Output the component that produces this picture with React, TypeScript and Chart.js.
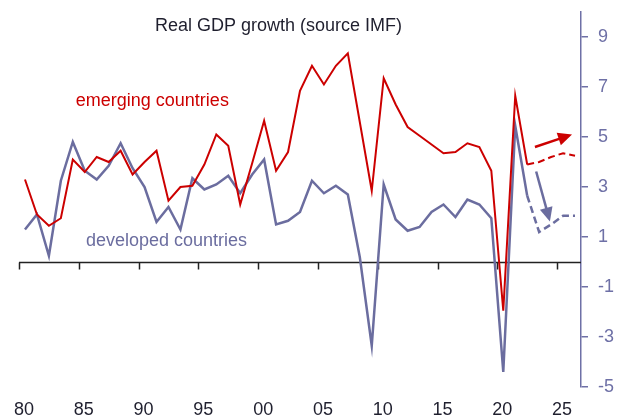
import React, { useEffect, useRef } from 'react';
import { Chart, registerables } from 'chart.js';

Chart.register(...registerables);

// ---------- data ----------
const years = [
  1980, 1981, 1982, 1983, 1984, 1985, 1986, 1987, 1988, 1989,
  1990, 1991, 1992, 1993, 1994, 1995, 1996, 1997, 1998, 1999,
  2000, 2001, 2002, 2003, 2004, 2005, 2006, 2007, 2008, 2009,
  2010, 2011, 2012, 2013, 2014, 2015, 2016, 2017, 2018, 2019,
  2020, 2021, 2022, 2023, 2024, 2025, 2026,
];

const emerging = [
  3.3, 1.9, 1.45, 1.75, 4.1, 3.6, 4.2, 4.0, 4.45, 3.5,
  4.0, 4.45, 2.45, 3.0, 3.05, 3.9, 5.1, 4.65, 2.3, 3.95,
  5.65, 3.65, 4.4, 6.85, 7.85, 7.1, 7.85, 8.35, 5.6, 2.85,
  7.35, 6.3, 5.4, 5.05, 4.7, 4.35, 4.4, 4.75, 4.6, 3.65,
  -1.95, 6.65, 3.9, 4.0, 4.2, 4.35, 4.25,
];

const developed = [
  1.3, 1.9, 0.25, 3.25, 4.8, 3.65, 3.3, 3.85, 4.75, 3.75,
  3.0, 1.6, 2.2, 1.3, 3.35, 2.9, 3.1, 3.45, 2.75, 3.5,
  4.1, 1.5, 1.65, 2.0, 3.25, 2.75, 3.05, 2.7, 0.2, -3.35,
  3.1, 1.7, 1.25, 1.4, 2.0, 2.3, 1.8, 2.5, 2.3, 1.75,
  -4.4, 5.45, 2.65, 1.2, 1.5, 1.85, 1.85,
];

const projectionStartYear = 2022;

const xTickYears = [1980, 1985, 1990, 1995, 2000, 2005, 2010, 2015, 2020, 2025];
const xTickLabels = ['80', '85', '90', '95', '00', '05', '10', '15', '20', '25'];
const yTickValues = [-5, -3, -1, 1, 3, 5, 7, 9];

const titleText = 'Real GDP growth (source IMF)';
const emergingLabel = 'emerging countries';
const developedLabel = 'developed countries';

// trend arrows (year, value): tail then tip
const emergingArrowTail = [2023.15, 4.6];
const emergingArrowTip = [2026.25, 5.1];
const developedArrowTail = [2023.25, 3.62];
const developedArrowTip = [2024.4, 1.62];

// ---------- styles ----------
const RED = '#cc0000';
const BLUE = '#6b6d9f';
const AXIS_BLUE = '#6e70a6';
const DARK = '#1f1f2e';
const FONT = "'Liberation Sans', Arial, Helvetica, sans-serif";

function drawArrow(ctx: CanvasRenderingContext2D, x1: number, y1: number, x2: number, y2: number, color: string, width: number) {
  const headLen = 14;
  const headHalf = 6.5;
  const ang = Math.atan2(y2 - y1, x2 - x1);
  const bx = x2 - headLen * Math.cos(ang);
  const by = y2 - headLen * Math.sin(ang);
  ctx.save();
  ctx.strokeStyle = color;
  ctx.fillStyle = color;
  ctx.lineWidth = width;
  ctx.setLineDash([]);
  ctx.beginPath();
  ctx.moveTo(x1, y1);
  ctx.lineTo(bx + 2 * Math.cos(ang), by + 2 * Math.sin(ang));
  ctx.stroke();
  ctx.beginPath();
  ctx.moveTo(x2, y2);
  ctx.lineTo(bx + headHalf * Math.sin(ang), by - headHalf * Math.cos(ang));
  ctx.lineTo(bx - headHalf * Math.sin(ang), by + headHalf * Math.cos(ang));
  ctx.closePath();
  ctx.fill();
  ctx.restore();
}

const zeroLinePlugin = {
  id: 'zeroLine',
  beforeDatasetsDraw(chart: any) {
    const { ctx, chartArea, scales } = chart;
    const y0 = Math.round(scales.y.getPixelForValue(0)) + 0.5;
    ctx.save();
    ctx.strokeStyle = '#222222';
    ctx.lineWidth = 1.5;
    ctx.beginPath();
    ctx.moveTo(chartArea.left, y0);
    ctx.lineTo(chartArea.right, y0);
    for (const yr of xTickYears) {
      const x = Math.round(scales.x.getPixelForValue(yr)) + 0.5;
      ctx.moveTo(x, y0);
      ctx.lineTo(x, y0 + 7);
    }
    ctx.stroke();
    ctx.restore();
  },
};

const annotationPlugin = {
  id: 'annotations',
  afterDatasetsDraw(chart: any) {
    const { ctx, scales } = chart;
    const px = (v: number) => scales.x.getPixelForValue(v);
    const py = (v: number) => scales.y.getPixelForValue(v);
    ctx.save();
    ctx.textBaseline = 'middle';
    ctx.font = `18px ${FONT}`;
    ctx.fillStyle = DARK;
    ctx.textAlign = 'center';
    ctx.fillText(titleText, px(2001.7), py(9.45));
    ctx.textAlign = 'left';
    ctx.fillStyle = RED;
    ctx.fillText(emergingLabel, px(1984.75), py(6.45));
    ctx.fillStyle = BLUE;
    ctx.fillText(developedLabel, px(1985.6), py(0.85));
    ctx.restore();

    drawArrow(ctx, px(emergingArrowTail[0]), py(emergingArrowTail[1]), px(emergingArrowTip[0]), py(emergingArrowTip[1]), RED, 2.5);
    drawArrow(ctx, px(developedArrowTail[0]), py(developedArrowTail[1]), px(developedArrowTip[0]), py(developedArrowTip[1]), BLUE, 2.5);
  },
};

export default function App() {
  const canvasRef = useRef<HTMLCanvasElement | null>(null);

  useEffect(() => {
    document.body.style.margin = '0';
    const canvas = canvasRef.current;
    if (!canvas) return;

    const projIdx = years.indexOf(projectionStartYear);
    const toPoints = (vals: number[]) => years.map((yr, i) => ({ x: yr + 0.5, y: vals[i] }));
    const dashAfter = (dash: number[]) => (ctx: any) => (ctx.p0DataIndex >= projIdx ? dash : undefined);

    const chart = new Chart(canvas, {
      type: 'line',
      data: {
        datasets: [
          {
            label: emergingLabel,
            data: toPoints(emerging),
            borderColor: RED,
            borderWidth: 2,
            pointRadius: 0,
            tension: 0,
            fill: false,
            segment: { borderDash: dashAfter([7, 4]) },
          },
          {
            label: developedLabel,
            data: toPoints(developed),
            borderColor: BLUE,
            borderWidth: 2.5,
            pointRadius: 0,
            tension: 0,
            fill: false,
            segment: { borderDash: dashAfter([7, 4]) },
          },
        ],
      },
      options: {
        animation: false,
        responsive: true,
        maintainAspectRatio: false,
        layout: { padding: { left: 19, top: 12, right: 0, bottom: 0 } },
        plugins: {
          legend: { display: false },
          tooltip: { enabled: false },
          title: { display: false },
        },
        scales: {
          x: {
            type: 'linear',
            min: 1980,
            max: 2027,
            grid: { display: false },
            border: { display: false },
            afterBuildTicks: (axis: any) => {
              axis.ticks = xTickYears.map((v) => ({ value: v }));
            },
            afterFit: (axis: any) => {
              axis.height = 31;
              axis.paddingLeft = 0;
              axis.paddingRight = 0;
            },
            ticks: {
              autoSkip: false,
              maxRotation: 0,
              labelOffset: 5,
              padding: 4,
              color: DARK,
              font: { family: FONT, size: 18 },
              callback: (v: any) => {
                const i = xTickYears.indexOf(Number(v));
                return i >= 0 ? xTickLabels[i] : '';
              },
            },
          },
          y: {
            type: 'linear',
            position: 'right',
            min: -5,
            max: 10,
            afterBuildTicks: (axis: any) => {
              axis.ticks = yTickValues.map((v) => ({ value: v }));
            },
            afterFit: (axis: any) => {
              axis.width = 37;
              axis.paddingTop = 0;
              axis.paddingBottom = 0;
            },
            grid: {
              drawOnChartArea: false,
              drawTicks: true,
              tickLength: 7,
              color: AXIS_BLUE,
              lineWidth: 1.5,
            },
            border: { display: true, color: AXIS_BLUE, width: 1.5 },
            ticks: {
              padding: 10,
              color: AXIS_BLUE,
              font: { family: FONT, size: 18 },
              callback: (v: any) => String(v),
            },
          },
        },
      },
      plugins: [zeroLinePlugin, annotationPlugin],
    });

    return () => chart.destroy();
  }, []);

  return (
    <div style={{ position: 'relative', width: 618, height: 418 }}>
      <canvas ref={canvasRef} />
    </div>
  );
}
